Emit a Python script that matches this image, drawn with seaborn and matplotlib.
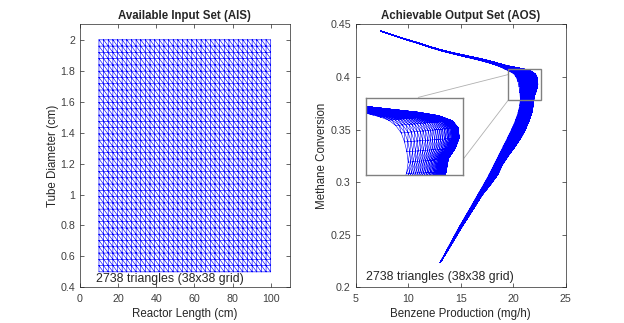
import numpy as np
import matplotlib
matplotlib.use("Agg")
import matplotlib.pyplot as plt
import matplotlib.tri as mtri
from matplotlib.patches import Rectangle
from matplotlib.ticker import FuncFormatter
import seaborn as sns

# ---------------- data ----------------
length_range = [10, 100]      # reactor length (cm)
diameter_range = [0.5, 2.0]   # tube diameter (cm)
grid_n = 38
annotation = "2738 triangles (38x38 grid)"

# AOS band boundaries (from the upper-left tip to the lower tip)
aos_outer_x = [7.41, 9.2, 11.0, 12.8, 14.6, 16.2, 17.6, 18.7, 19.7, 20.9, 21.9, 22.3, 22.3,
               21.98, 21.85, 21.45, 20.9, 20.05, 19.1, 18.35, 17.15, 16.15, 15.12, 14.1, 13.05]
aos_outer_y = [0.4436, 0.4377, 0.4323, 0.4266, 0.42225, 0.41885, 0.4157, 0.4126, 0.4100, 0.4078,
               0.4045, 0.399, 0.390, 0.381, 0.369, 0.357, 0.345, 0.332, 0.319, 0.3042, 0.2894,
               0.2735, 0.2576, 0.2405, 0.2235]
aos_inner_x = [7.41, 9.2, 11.0, 12.8, 14.6, 16.2, 17.6, 18.7, 19.35, 19.75, 20.15, 20.45, 20.6,
               20.68, 20.55, 20.15, 19.6, 18.95, 18.3, 17.55, 16.7, 15.8, 14.87, 13.95, 13.05]
aos_inner_y = [0.4436, 0.4373, 0.4317, 0.4258, 0.42115, 0.41735, 0.4137, 0.4100, 0.4068, 0.4050,
               0.4020, 0.396, 0.388, 0.379, 0.369, 0.357, 0.345, 0.332, 0.319, 0.3042, 0.2894,
               0.2735, 0.2576, 0.2405, 0.2235]

zoom_box_x = [19.53, 22.61]
zoom_box_y = [0.378, 0.408]
inset_xlim = [19.3, 22.45]
inset_ylim = [0.372, 0.4158]
connector1 = ([10.96, 19.53], [0.3806, 0.4023])
connector2 = ([15.19, 19.53], [0.3212, 0.378])

# ---------------- style ----------------
sns.set_theme(style="ticks")
plt.rcParams["font.family"] = ["Liberation Sans", "DejaVu Sans"]
plt.rcParams.update({
    "xtick.direction": "in", "ytick.direction": "in",
    "xtick.top": True, "ytick.right": True,
    "xtick.major.size": 3, "ytick.major.size": 3,
    "xtick.major.width": 0.5, "ytick.major.width": 0.5,
    "xtick.major.pad": 4.5,
    "xtick.color": "#262626", "ytick.color": "#262626",
    "xtick.labelcolor": "#404040", "ytick.labelcolor": "#404040",
    "xtick.labelsize": 7.7, "ytick.labelsize": 7.7,
    "axes.edgecolor": "#262626", "axes.linewidth": 0.5,
})

# ---------------- mesh ----------------
L = np.linspace(length_range[0], length_range[1], grid_n)
D = np.linspace(diameter_range[0], diameter_range[1], grid_n)
LL, DD = np.meshgrid(L, D)

tris = []
for j in range(grid_n - 1):
    for i in range(grid_n - 1):
        v00 = j * grid_n + i
        v10 = v00 + 1
        v01 = v00 + grid_n
        v11 = v01 + 1
        tris.append([v00, v10, v01])
        tris.append([v10, v11, v01])
tris = np.array(tris)


def catmull(px, py, u):
    P = np.column_stack([px, py]).astype(float)
    n = len(P)
    s = u * (n - 1)
    k = np.clip(np.floor(s).astype(int), 0, n - 2)
    t = (s - k)[:, None]
    p0 = P[np.clip(k - 1, 0, n - 1)]
    p1 = P[k]
    p2 = P[k + 1]
    p3 = P[np.clip(k + 2, 0, n - 1)]
    return 0.5 * (2 * p1 + (-p0 + p2) * t + (2 * p0 - 5 * p1 + 4 * p2 - p3) * t ** 2
                  + (-p0 + 3 * p1 - 3 * p2 + p3) * t ** 3)


a = (LL - length_range[0]) / (length_range[1] - length_range[0])
b = (DD - diameter_range[0]) / (diameter_range[1] - diameter_range[0])
outer = catmull(aos_outer_x, aos_outer_y, a.ravel())
inner = catmull(aos_inner_x, aos_inner_y, a.ravel())
bb = (1 - (1 - b.ravel()) ** 2.3)[:, None]   # mesh lines crowd towards the outer edge
aos = inner + bb * (outer - inner)

tri_in = mtri.Triangulation(LL.ravel(), DD.ravel(), tris)
tri_out = mtri.Triangulation(aos[:, 0], aos[:, 1], tris)

# ---------------- figure ----------------
fig = plt.figure(figsize=(6.24, 3.23), dpi=100)
ax1 = fig.add_axes([0.128, 0.1105, 0.3364, 0.814])
ax2 = fig.add_axes([0.570, 0.1105, 0.3366, 0.814])

fmt = FuncFormatter(lambda v, p: "%g" % round(v, 3))
blue = "#0000ff"

ax1.triplot(tri_in, color=blue, lw=0.45)
ax1.set_xlim(0, 110)
ax1.set_ylim(0.4, 2.1)
ax1.set_xticks([0, 20, 40, 60, 80, 100])
ax1.set_yticks(np.round(np.arange(0.4, 2.01, 0.2), 1))
ax1.xaxis.set_major_formatter(fmt)
ax1.yaxis.set_major_formatter(fmt)
ax1.set_title("Available Input Set (AIS)", fontsize=8.3, fontweight="bold", pad=4)
ax1.set_xlabel("Reactor Length (cm)", fontsize=8.3, labelpad=3.5)
ax1.set_ylabel("Tube Diameter (cm)", fontsize=8.3, labelpad=1)
ax1.text(8.6, 0.455, annotation, fontsize=8.9, va="center", ha="left")

ax2.triplot(tri_out, color=blue, lw=0.45)
ax2.set_xlim(5, 25)
ax2.set_ylim(0.2, 0.45)
ax2.set_xticks([5, 10, 15, 20, 25])
ax2.set_yticks([0.2, 0.25, 0.3, 0.35, 0.4, 0.45])
ax2.xaxis.set_major_formatter(fmt)
ax2.yaxis.set_major_formatter(fmt)
ax2.set_title("Achievable Output Set (AOS)", fontsize=8.3, fontweight="bold", pad=4)
ax2.set_xlabel("Benzene Production (mg/h)", fontsize=8.3, labelpad=3.5)
ax2.set_ylabel("Methane Conversion", fontsize=8.3, labelpad=1.5)
ax2.text(5.95, 0.2095, annotation, fontsize=8.9, va="center", ha="left")

ax2.add_patch(Rectangle((zoom_box_x[0], zoom_box_y[0]), zoom_box_x[1] - zoom_box_x[0],
                        zoom_box_y[1] - zoom_box_y[0], fill=False, ec="#808080", lw=1.0, zorder=5))
ax2.plot(*connector1, color="#b0b0b0", lw=0.6, zorder=4)
ax2.plot(*connector2, color="#b0b0b0", lw=0.6, zorder=4)

ax3 = fig.add_axes([0.586, 0.4582, 0.1554, 0.2393])
ax3.triplot(tri_out, color=blue, lw=0.4)
ax3.set_xlim(*inset_xlim)
ax3.set_ylim(*inset_ylim)
ax3.set_xticks([])
ax3.set_yticks([])
ax3.tick_params(top=False, right=False)
for sp in ax3.spines.values():
    sp.set_color("#808080")
    sp.set_linewidth(1.0)

fig.savefig("out.png", dpi=100)
